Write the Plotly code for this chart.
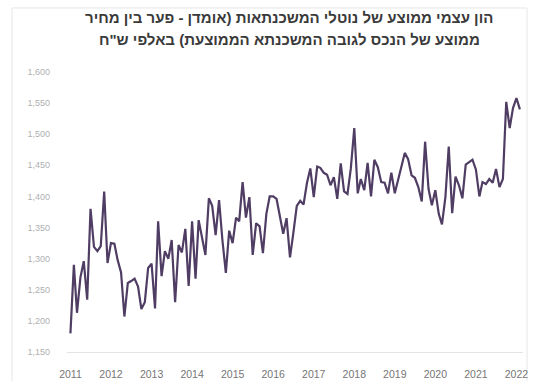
import pandas as pd
import plotly.graph_objects as go

# Monthly estimate of average equity of mortgage takers, thousands NIS (Jan 2011 - Feb 2022)
start_month = "2011-01-01"
equity = [
    1180, 1290, 1213, 1270, 1296, 1234, 1380, 1319, 1312, 1320, 1408, 1293,  # 2011
    1325, 1324, 1298, 1278, 1207, 1261, 1264, 1268, 1255, 1219, 1230, 1285,  # 2012
    1292, 1220, 1360, 1272, 1312, 1300, 1330, 1230, 1322, 1310, 1348, 1256,  # 2013
    1360, 1268, 1362, 1335, 1306, 1397, 1385, 1338, 1394, 1330, 1277, 1345,  # 2014
    1325, 1366, 1360, 1423, 1366, 1399, 1306, 1357, 1352, 1309, 1372, 1400,  # 2015
    1400, 1396, 1367, 1340, 1365, 1302, 1341, 1385, 1393, 1387, 1422, 1445,  # 2016
    1399, 1448, 1446, 1438, 1435, 1418, 1431, 1396, 1453, 1408, 1404, 1445,  # 2017
    1510, 1405, 1428, 1410, 1454, 1400, 1459, 1447, 1423, 1422, 1405, 1438,  # 2018
    1405, 1428, 1448, 1470, 1460, 1434, 1430, 1415, 1392, 1488, 1412, 1386,  # 2019
    1410, 1372, 1355, 1399, 1480, 1373, 1432, 1418, 1397, 1451, 1455, 1459,  # 2020
    1443, 1400, 1423, 1420, 1428, 1422, 1444, 1415, 1428, 1552, 1510, 1542,  # 2021
    1558, 1540,                                                              # 2022
]
months = pd.date_range(start_month, periods=len(equity), freq="MS")

year_ticks = [f"{y}-01-01" for y in range(2011, 2023)]
year_labels = [str(y) for y in range(2011, 2023)]
y_ticks = list(range(1150, 1601, 50))
y_labels = [f"{v:,}" for v in y_ticks]

title_lines = [
    "הון עצמי ממוצע של נוטלי המשכנתאות (אומדן - פער בין מחיר",
    "ממוצע של הנכס לגובה המשכנתא הממוצעת) באלפי ש\"ח",
]

FONT = "Liberation Sans, Arial, sans-serif"

fig = go.Figure(
    go.Scatter(
        x=months,
        y=equity,
        mode="lines",
        line=dict(color="#4f3d63", width=2.2),
        hoverinfo="x+y",
    )
)

fig.update_layout(
    width=534,
    height=381,
    margin=dict(l=67, r=11, t=72, b=29),
    paper_bgcolor="white",
    plot_bgcolor="white",
    showlegend=False,
    font=dict(family=FONT),
)

fig.update_xaxes(
    range=["2010-12-01", "2022-03-01"],
    tickvals=year_ticks,
    ticktext=year_labels,
    showgrid=False,
    zeroline=False,
    showline=True,
    linecolor="#e3e3e3",
    linewidth=1,
    ticks="",
    tickfont=dict(size=10.5, color="#767676", family=FONT),
    ticklabelstandoff=12,
    automargin=False,
)

fig.update_yaxes(
    range=[1150, 1600],
    tickvals=y_ticks,
    ticktext=y_labels,
    showgrid=False,
    zeroline=False,
    showline=False,
    ticks="",
    tickfont=dict(size=9, color="#b0b0b0", family=FONT),
    ticklabelstandoff=16,
    automargin=False,
)

# Two-line bold title above the plot
for text, ypos in zip(title_lines, [1.196, 1.115]):
    fig.add_annotation(
        text=f"<b>{text}</b>",
        xref="paper", yref="paper",
        x=0.487, y=ypos,
        xanchor="center", yanchor="middle",
        showarrow=False,
        font=dict(size=15, color="#3a3a3a", family=FONT),
    )

# Light frame around the chart area
fig.add_shape(
    type="rect",
    xref="paper", yref="paper",
    x0=-0.1206, x1=1.0088, y0=-0.14, y1=1.2286,
    line=dict(color="#e6e6e6", width=1),
    fillcolor="rgba(0,0,0,0)",
    layer="below",
)

fig.write_html("out.html")
